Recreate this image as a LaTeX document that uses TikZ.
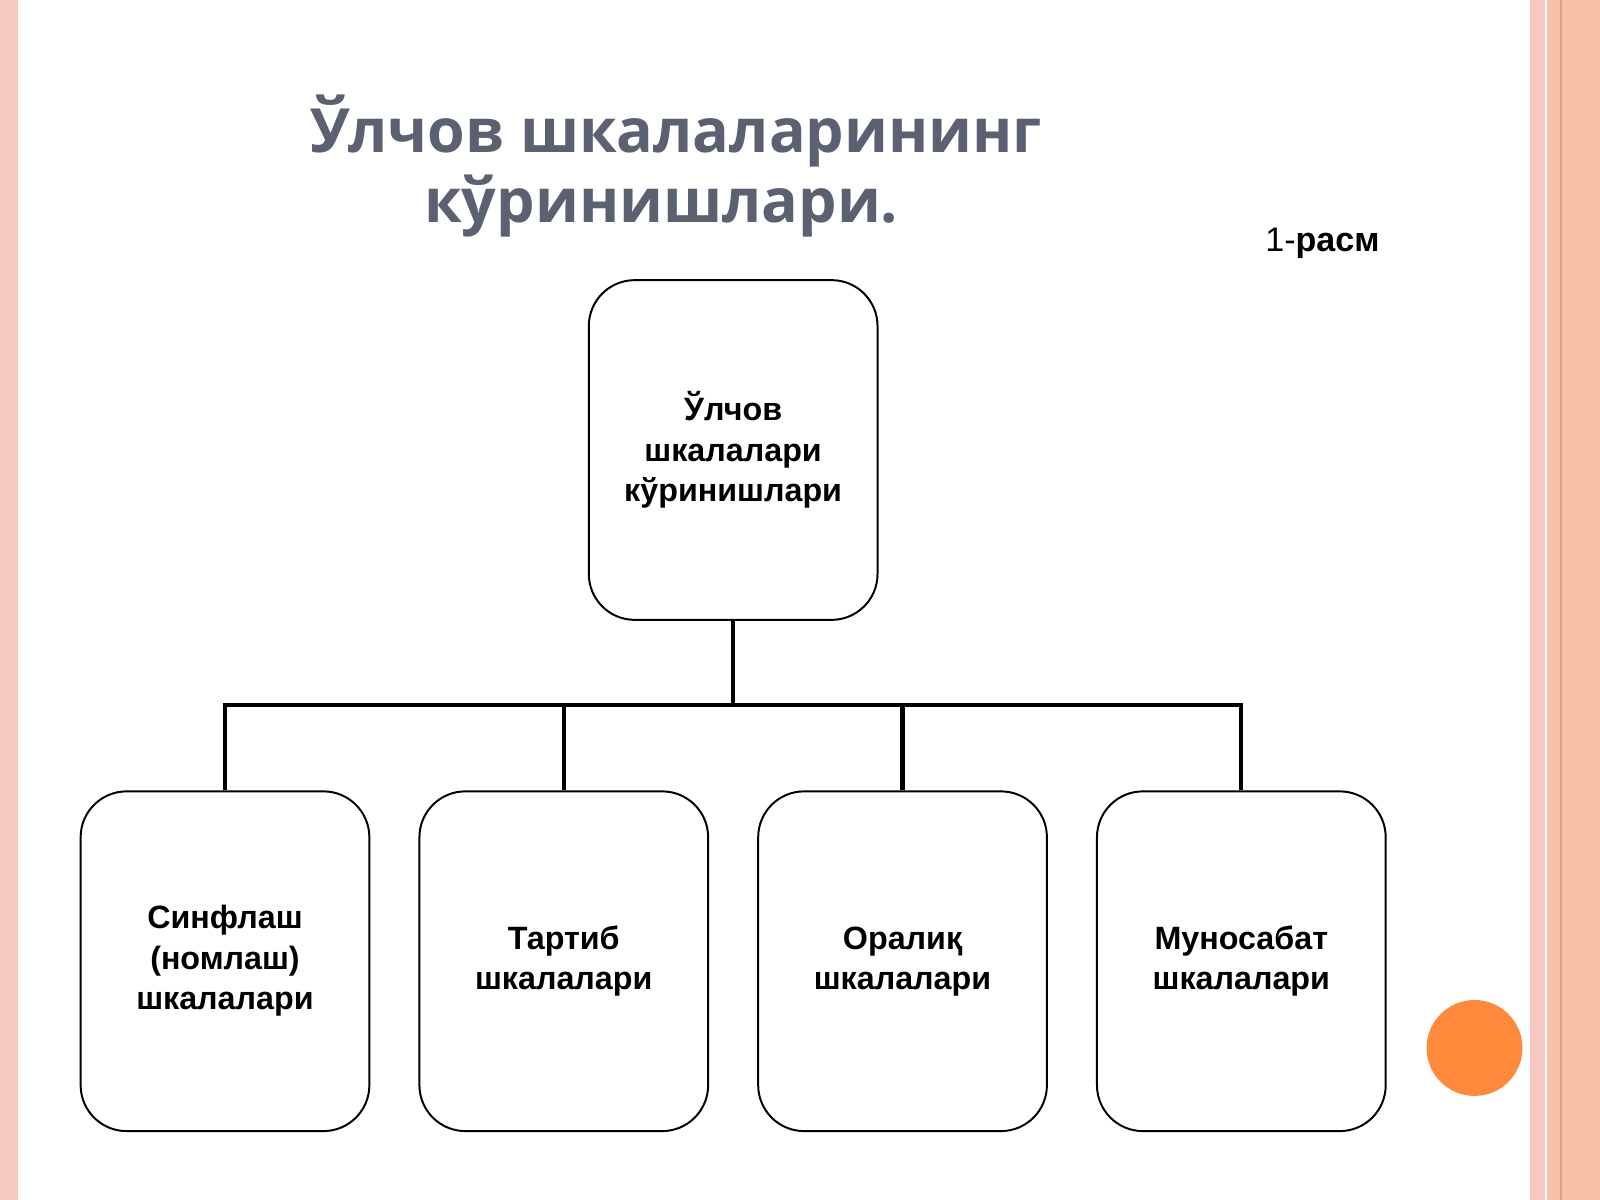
\documentclass[tikz,border=0pt]{standalone}
\usepackage{fontspec}
\setmainfont{Liberation Sans}
\newfontfamily\titlefont{Open Sans}
\definecolor{stripepink}{HTML}{F6C9C0}
\definecolor{stripepeach}{HTML}{F8C1A8}
\definecolor{stripedark}{HTML}{E0A08A}
\definecolor{titlegray}{HTML}{5B6170}
\definecolor{dotorange}{HTML}{FF8A3C}
\newcommand{\liftby}[2]{\raisebox{#1}{\begin{tabular}{@{}c@{}}#2\end{tabular}}}
\tikzset{every node/.style={text centered, inner sep=1pt},
  scalebox/.style={draw, line width=1.1pt, rounded corners=0.9cm, minimum width=5.66cm, minimum height=6.66cm,
    align=center, font=\fontsize{18}{22.5}\selectfont\bfseries},
  busline/.style={line width=2.4pt}}
\begin{document}
\begin{tikzpicture}[x=0.02cm, y=-0.02cm]
  \useasboundingbox (0,0) rectangle (1568,1176);
  % page decoration
  \fill[stripepink] (0,0) rectangle (18,1176);
  \fill[stripepink] (1499,0) rectangle (1514,1176);
  \fill[stripepeach] (1516,0) rectangle (1568,1176);
  \fill[stripedark] (1529,0) rectangle (1531,1176);
  \fill[dotorange] (1445,1027) circle (47);

  \node[font=\titlefont\fontsize{34}{40}\selectfont\bfseries, text=titlegray] (title1) at (663,128) {Ўлчов шкалаларининг};
  \node[font=\titlefont\fontsize{34}{40}\selectfont\bfseries, text=titlegray] (title2) at (648,202) {кўринишлари.};
  \node[font=\fontsize{19}{22}\selectfont] (fig) at (1296,238) {1-\textbf{расм}};

  \node[scalebox] (root) at (718.5,441) {Ўлчов\\шкалалари\\кўринишлари};
  \node[scalebox] (nom) at (220.5,942) {\liftby{8pt}{Синфлаш\\(номлаш)\\шкалалари}};
  \node[scalebox] (ord) at (552.5,942) {\liftby{8pt}{Тартиб\\шкалалари}};
  \node[scalebox] (int) at (884.5,942) {\liftby{-3pt}{Оралиқ\\шкалалари}};
  \node[scalebox] (rat) at (1216.5,942) {\liftby{-3pt}{Муносабат\\шкалалари}};

  \coordinate (bus) at (718.5,691);
  \draw[busline] (root.south) -- (bus);
  \draw[busline] (nom.north) |- (bus) -| (rat.north);
  \foreach \b in {ord,int}
    \draw[busline] (\b.north) -- (\b.north |- bus);
\end{tikzpicture}
\end{document}
